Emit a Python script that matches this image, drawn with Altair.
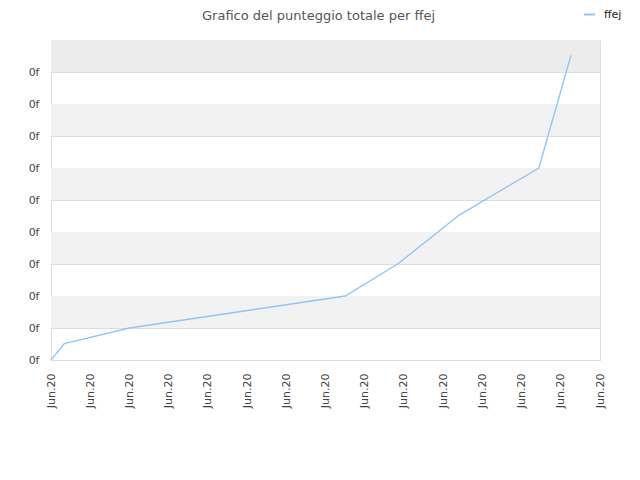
import json
import altair as alt
import pandas as pd

# ---- data ----
series_name = "ffej"
x_pos = [0, 0.34, 2.0, 7.5, 8.84, 10.41, 12.44, 13.26]
scores = [0, 0.51, 1.0, 2.0, 3.0, 4.53, 6.0, 9.52]
x_ticks = list(range(15))
x_labels = ["Jun.20"] * 15
y_ticks = list(range(10))
y_label = "0f"
band_lo = [1, 3, 5, 7, 9]
band_hi = [2, 4, 6, 8, 10]
band_fill = ["#f2f2f2", "#f2f2f2", "#f2f2f2", "#f2f2f2", "#ececec"]

line_df = pd.DataFrame({"x": x_pos, "y": scores, "s": [series_name] * len(x_pos)})
band_df = pd.DataFrame({"lo": band_lo, "hi": band_hi, "fill": band_fill,
                        "x0": [min(x_ticks)] * len(band_lo), "x1": [max(x_ticks)] * len(band_lo)})

FONT = "DejaVu Sans"
xscale = alt.Scale(domain=[min(x_ticks), max(x_ticks)], nice=False, zero=False)
yscale = alt.Scale(domain=[0, 10], nice=False)

x_axis = alt.Axis(values=x_ticks,
                  labelExpr=json.dumps(x_labels) + "[datum.value]",
                  labelAngle=270, labelAlign="right", labelBaseline="middle",
                  labelPadding=13, ticks=False, grid=False, domain=False,
                  labelFont=FONT, labelFontSize=11, labelColor="#444",
                  labelOverlap=False)
y_axis = alt.Axis(values=y_ticks, labelExpr="'" + y_label + "'",
                  ticks=False, grid=True, gridColor="#dcdcdc", domain=False,
                  labelPadding=12, labelFont=FONT, labelFontSize=11,
                  labelColor="#444", labelOverlap=False)

bands = alt.Chart(band_df).mark_rect().encode(
    x=alt.X("x0:Q", scale=xscale, title=None, axis=x_axis),
    x2="x1:Q",
    y=alt.Y("lo:Q", scale=yscale, title=None, axis=y_axis),
    y2="hi:Q",
    color=alt.Color("fill:N", scale=None),
)

line = alt.Chart(line_df).mark_line(strokeWidth=1.4).encode(
    x=alt.X("x:Q", scale=xscale, title=None, axis=x_axis),
    y=alt.Y("y:Q", scale=yscale, title=None, axis=y_axis),
    color=alt.Color("s:N", scale=alt.Scale(domain=[series_name], range=["#94c4f4"]),
                    legend=alt.Legend(orient="none", legendX=532, legendY=-32, title=None,
                                      symbolType="stroke", symbolSize=120,
                                      symbolStrokeWidth=2, labelFont=FONT,
                                      labelFontSize=11, labelColor="#222",
                                      labelOffset=8)),
)

chart = alt.layer(bands, line).properties(
    width=549, height=320,
    autosize="none",
    padding={"left": 43, "top": 32, "right": 32, "bottom": 112},
    title=alt.TitleParams("Grafico del punteggio totale per ffej", font=FONT,
                          fontSize=13, fontWeight="normal", color="#555",
                          offset=0, dy=15, dx=-7),
).configure_view(stroke="#dddddd", strokeWidth=1).configure(background="white")

chart.save("out.html", embed_options={"renderer": "svg", "actions": False})
